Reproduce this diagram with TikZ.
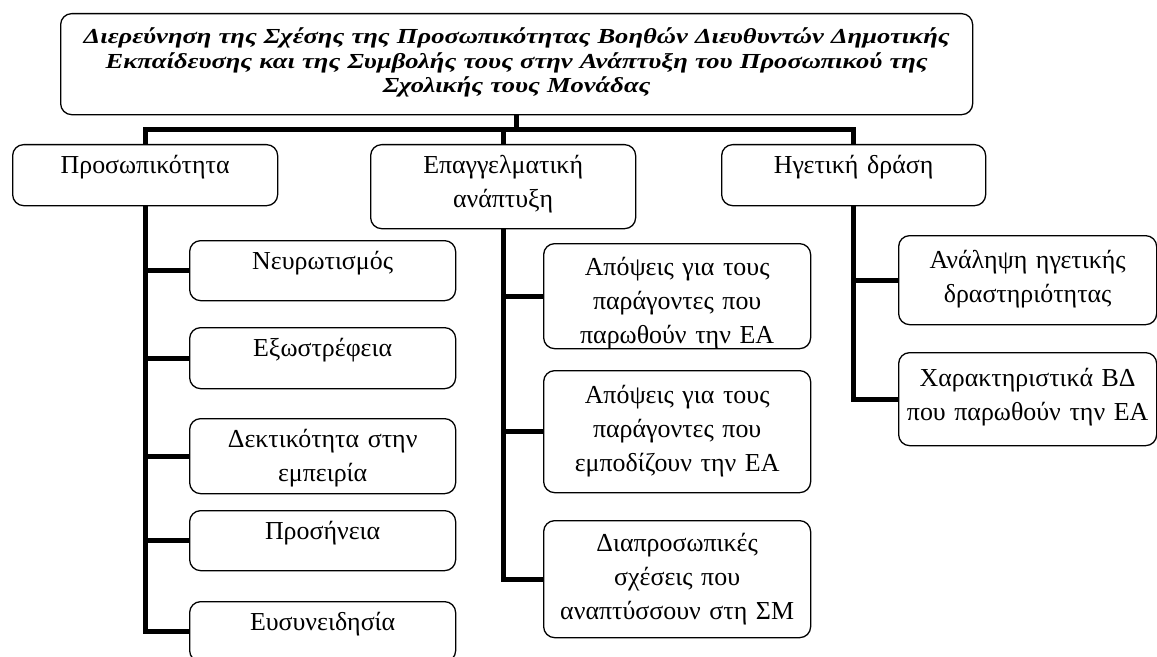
\documentclass[tikz,border=0pt]{standalone}
\usepackage{fontspec}
\setmainfont{Liberation Serif}
\newfontfamily\titlefont[FakeStretch=1.24]{Liberation Serif}
\usepackage{tikz}

\begin{document}
\begin{tikzpicture}[
    x=1bp,y=-1bp,
    chart box/.style={draw,rounded corners=11bp,line width=1.3bp,anchor=north west,
      align=center,inner xsep=4bp,inner ysep=0bp,text height=29bp,
      font=\fontsize{26}{34}\selectfont},
    title box/.style={chart box,text height=30bp,
      font=\titlefont\fontsize{21.5}{24.5}\selectfont\bfseries\itshape},
    chart line/.style={line width=5bp,line join=miter}
  ]
    \useasboundingbox (0,0) rectangle (1157,657);
    \coordinate (bar) at (0,130);
    % title and first level
    \node[title box,text width=904bp,text depth=71bp] (title) at (60,13)
      {Διερεύνηση της Σχέσης της Προσωπικότητας Βοηθών Διευθυντών Δημοτικής\hspace*{44bp}\\
       Εκπαίδευσης και της Συμβολής τους στην Ανάπτυξη του Προσωπικού της\hspace*{44bp}\\
       Σχολικής τους Μονάδας\hspace*{44bp}};
    \node[chart box,text width=257bp,text depth=32bp] (pers) at (12,144) {Προσωπικότητα};
    \node[chart box,text width=257bp,text depth=55bp] (prof) at (370,144) {Επαγγελματική\\ανάπτυξη};
    \node[chart box,text width=256bp,text depth=32bp] (lead) at (721,144) {Ηγετική δράση};
    % personality traits
    \node[chart box,text width=258bp,text depth=31bp] (neur) at (189,240) {Νευρωτισμός};
    \node[chart box,text width=258bp,text depth=32bp] (extr) at (189,327) {Εξωστρέφεια};
    \node[chart box,text width=258bp,text depth=46bp] (open) at (189,418) {Δεκτικότητα στην\\εμπειρία};
    \node[chart box,text width=258bp,text depth=31bp] (agre) at (189,510) {Προσήνεια};
    \node[chart box,text width=258bp,text depth=31bp] (cons) at (189,601) {Ευσυνειδησία};
    % professional development
    \node[chart box,text width=259bp,text height=32bp,text depth=73bp] (push) at (543,243)
      {Απόψεις για τους\\παράγοντες που\\παρωθούν την ΕΑ};
    \node[chart box,text width=259bp,text height=33bp,text depth=89bp] (block) at (543,370)
      {Απόψεις για τους\\παράγοντες που\\εμποδίζουν την ΕΑ};
    \node[chart box,text width=259bp,text height=31bp,text depth=86bp] (rel) at (543,520)
      {Διαπροσωπικές\\σχέσεις που\\αναπτύσσουν στη ΣΜ};
    % leadership
    \node[chart box,text width=250bp,text height=33bp,text depth=56bp] (take) at (898,235)
      {Ανάληψη ηγετικής\\δραστηριότητας};
    \node[chart box,text width=250bp,text height=34bp,text depth=59bp] (trait) at (898,352)
      {Χαρακτηριστικά ΒΔ\\που παρωθούν την ΕΑ};
    % connectors
    \draw[chart line] (title.south) -- (title.south |- bar);
    \draw[chart line] (pers.north) |- (lead.north |- bar) -- (lead.north);
    \draw[chart line] (prof.north) -- (prof.north |- bar);
    \draw[chart line] (pers.south) |- (neur.west);
    \draw[chart line] (pers.south) |- (extr.west);
    \draw[chart line] (pers.south) |- (open.west);
    \draw[chart line] (pers.south) |- (agre.west);
    \draw[chart line] (pers.south) |- (cons.west);
    \draw[chart line] (prof.south) |- (push.west);
    \draw[chart line] (prof.south) |- (block.west);
    \draw[chart line] (prof.south) |- (rel.west);
    \draw[chart line] (lead.south) |- (take.west);
    \draw[chart line] (lead.south) |- (trait.west);
  \end{tikzpicture}
\end{document}
